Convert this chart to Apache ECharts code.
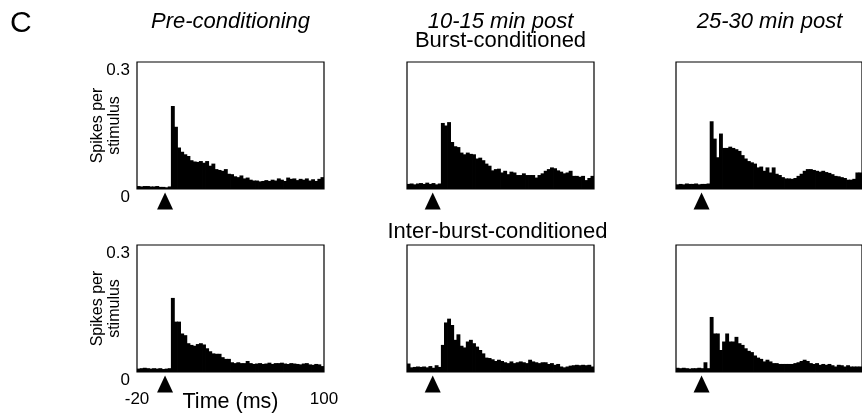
<!DOCTYPE html>
<html><head><meta charset="utf-8">
<script src="https://cdn.jsdelivr.net/npm/echarts@6/dist/echarts.min.js"></script>
<style>html,body{margin:0;padding:0;background:#fff}#c{width:862px;height:417px}</style>
</head><body><div id="c"></div>
<script>
// 2-ms bins, start times (ms)
const binStarts = [-20,-18,-16,-14,-12,-10,-8,-6,-4,-2,0,2,4,6,8,10,12,14,16,18,20,22,24,26,28,30,32,34,36,38,40,42,44,46,48,50,52,54,56,58,60,62,64,66,68,70,72,74,76,78,80,82,84,86,88,90,92,94,96,98];

// Burst-conditioned row
const burstPre = [0.007,0.006,0.007,0.007,0.006,0.006,0.007,0.005,0.005,0.004,0.006,
  0.196,0.147,0.098,0.088,0.082,0.078,0.068,0.065,0.064,0.066,0.062,0.066,0.055,0.060,
  0.047,0.045,0.043,0.047,0.036,0.035,0.030,0.028,0.032,0.025,0.027,0.022,0.020,0.020,
  0.018,0.019,0.021,0.019,0.022,0.020,0.025,0.022,0.019,0.027,0.024,0.025,0.021,0.024,
  0.022,0.025,0.020,0.023,0.019,0.024,0.028];
const burst10to15 = [0.012,0.013,0.011,0.013,0.014,0.012,0.015,0.012,0.014,0.011,0.013,
  0.156,0.150,0.158,0.111,0.101,0.099,0.086,0.082,0.086,0.083,0.082,0.072,0.074,0.068,
  0.060,0.055,0.044,0.047,0.048,0.039,0.043,0.035,0.041,0.039,0.033,0.033,0.037,0.033,
  0.033,0.033,0.027,0.033,0.037,0.043,0.047,0.051,0.049,0.044,0.041,0.037,0.039,0.043,
  0.031,0.031,0.029,0.031,0.021,0.026,0.031];
const burst25to30 = [0.011,0.012,0.011,0.013,0.012,0.012,0.013,0.011,0.012,0.012,0.013,
  0.160,0.119,0.075,0.131,0.097,0.097,0.100,0.097,0.094,0.090,0.080,0.072,0.066,0.063,
  0.060,0.051,0.053,0.043,0.051,0.039,0.051,0.036,0.033,0.028,0.025,0.025,0.024,0.026,
  0.031,0.036,0.043,0.047,0.047,0.045,0.043,0.041,0.043,0.040,0.038,0.035,0.031,0.030,
  0.028,0.026,0.022,0.022,0.024,0.039,0.039];

// Inter-burst-conditioned row
const interPre = [0.008,0.009,0.010,0.009,0.008,0.009,0.008,0.009,0.007,0.008,0.009,
  0.175,0.119,0.119,0.091,0.087,0.068,0.064,0.062,0.066,0.068,0.065,0.056,0.049,0.044,
  0.043,0.043,0.035,0.031,0.031,0.023,0.021,0.023,0.021,0.021,0.026,0.021,0.019,0.020,
  0.021,0.019,0.020,0.022,0.019,0.021,0.021,0.022,0.020,0.019,0.021,0.020,0.019,0.018,
  0.020,0.021,0.018,0.017,0.019,0.018,0.014];
const inter10to15 = [0.020,0.011,0.012,0.013,0.012,0.013,0.011,0.014,0.010,0.016,0.012,
  0.064,0.117,0.126,0.111,0.076,0.089,0.062,0.058,0.072,0.076,0.068,0.060,0.052,0.044,
  0.034,0.033,0.030,0.026,0.029,0.026,0.023,0.021,0.025,0.021,0.023,0.025,0.023,0.021,
  0.029,0.025,0.023,0.021,0.023,0.023,0.019,0.021,0.017,0.019,0.013,0.011,0.013,0.015,
  0.016,0.017,0.016,0.017,0.016,0.017,0.013];
const inter25to30 = [0.010,0.009,0.010,0.009,0.008,0.009,0.009,0.010,0.009,0.023,0.009,
  0.130,0.091,0.091,0.052,0.072,0.091,0.072,0.072,0.083,0.068,0.064,0.056,0.050,0.047,
  0.039,0.034,0.031,0.025,0.029,0.025,0.021,0.021,0.019,0.019,0.019,0.019,0.019,0.021,
  0.023,0.026,0.029,0.026,0.021,0.019,0.021,0.017,0.019,0.017,0.019,0.016,0.013,0.017,
  0.016,0.013,0.016,0.013,0.013,0.013,0.013];

const panelData = [burstPre, burst10to15, burst25to30, interPre, inter10to15, inter25to30];
const stimulusTimes = [-2, -3.5, -3.5, -2, -3.5, -3.5];
const columnTitles = ['Pre-conditioning', '10-15 min post', '25-30 min post'];
const rowTitles = ['Burst-conditioned', 'Inter-burst-conditioned'];
const yRange = [0, 0.3];
const xRange = [-20, 100];

const FONT = "'Liberation Sans', Arial, Helvetica, sans-serif";
const colLeft = [137, 407, 676];
const rowTop = [62, 245];
const PW = 187, PH = 127;

const grids = [], xAxes = [], yAxes = [], series = [];
panelData.forEach((d, i) => {
  const col = i % 3, row = Math.floor(i / 3);
  grids.push({left: colLeft[col], top: rowTop[row], width: PW, height: PH,
    show: true, borderColor: '#000', borderWidth: 1.2, backgroundColor: 'rgba(0,0,0,0)'});
  xAxes.push({type: 'category', gridIndex: i, data: binStarts, show: false, position: 'top', boundaryGap: true});
  const showX = (i === 3);
  xAxes.push({type: 'value', gridIndex: i, min: xRange[0], max: xRange[1], interval: xRange[1] - xRange[0],
    position: 'bottom', axisLine: {show: false}, axisTick: {show: false}, splitLine: {show: false},
    axisLabel: {show: showX, margin: 19, fontSize: 17, color: '#000', fontFamily: FONT},
    name: showX ? 'Time (ms)' : '', nameLocation: 'middle', nameGap: 19, nameMoveOverlap: false,
    nameTextStyle: {fontSize: 21.5, color: '#000', fontFamily: FONT}});
  const showY = (col === 0);
  yAxes.push({type: 'value', gridIndex: i, min: yRange[0], max: yRange[1], interval: yRange[1] - yRange[0],
    axisLine: {show: false}, axisTick: {show: false}, splitLine: {show: false},
    axisLabel: {show: showY, verticalAlign: 'top', margin: 7, fontSize: 17, color: '#000', fontFamily: FONT},
    name: showY ? 'Spikes per\nstimulus' : '', nameLocation: 'middle', nameRotate: 90, nameGap: 14,
    nameMoveOverlap: false,
    nameTextStyle: {fontSize: 16, lineHeight: 17, color: '#000', fontFamily: FONT}});
  series.push({type: 'bar', xAxisIndex: 2 * i, yAxisIndex: i, data: d, barWidth: '125%', barGap: '-100%',
    itemStyle: {color: '#000'}, silent: true});
  series.push({type: 'scatter', xAxisIndex: 2 * i + 1, yAxisIndex: i, data: [[stimulusTimes[i], 0]],
    symbol: 'triangle', symbolSize: [16, 17], symbolOffset: [0, 12], clip: false,
    itemStyle: {color: '#000', opacity: 1}, silent: true});
});

const titles = [{text: 'C', left: 10, top: 9, padding: 0,
  textStyle: {fontSize: 30, fontWeight: 'normal', color: '#000', fontFamily: FONT}}];
columnTitles.forEach((t, c) => titles.push({text: t, left: colLeft[c] + PW / 2, top: 11, textAlign: 'center', padding: 0,
  textStyle: {fontSize: 22, fontStyle: 'italic', fontWeight: 'normal', color: '#000', fontFamily: FONT}}));
titles.push({text: rowTitles[0], left: colLeft[1] + PW / 2, top: 30, textAlign: 'center', padding: 0,
  textStyle: {fontSize: 22, fontWeight: 'normal', color: '#000', fontFamily: FONT}});
titles.push({text: rowTitles[1], left: colLeft[1] + PW / 2 - 3, top: 221, textAlign: 'center', padding: 0,
  textStyle: {fontSize: 22, fontWeight: 'normal', color: '#000', fontFamily: FONT}});

const chart = echarts.init(document.getElementById('c'), null, {renderer: 'canvas'});
chart.setOption({animation: false, backgroundColor: '#fff', title: titles,
  grid: grids, xAxis: xAxes, yAxis: yAxes, series: series});
</script></body></html>
